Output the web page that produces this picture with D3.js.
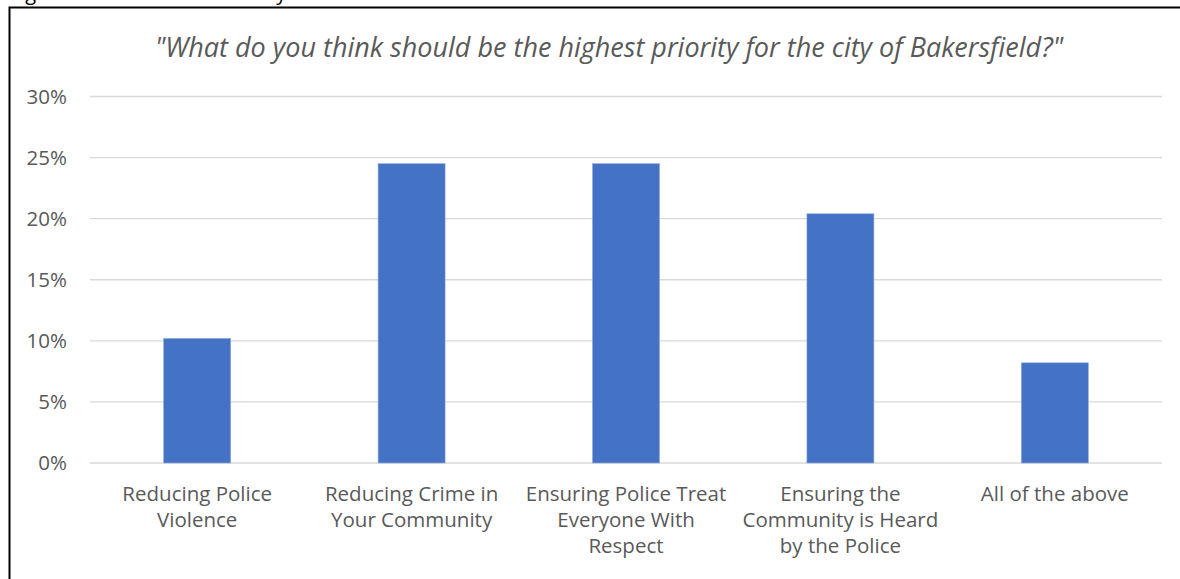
<!DOCTYPE html>
<html>
<head>
<meta charset="utf-8">
<script src="https://cdn.jsdelivr.net/npm/d3@7"></script>
<style>
  body { margin: 0; background: #fff; }
  svg { display: block; }
  .axis text { font-family: "Open Sans", sans-serif; font-size: 20.5px; fill: #595959; }
</style>
</head>
<body>
<script>
// data
var categories = [
  ["Reducing Police", "Violence"],
  ["Reducing Crime in", "Your Community"],
  ["Ensuring Police Treat", "Everyone With", "Respect"],
  ["Ensuring the", "Community is Heard", "by the Police"],
  ["All of the above"]
];
var shares = [10.2, 24.5, 24.5, 20.4, 8.2];
var yTicks = [0, 5, 10, 15, 20, 25, 30];
var chartTitle = "\"What do you think should be the highest priority for the city of Bakersfield?\"";

var w = 1180, h = 579;
var plotLeft = 90, plotRight = 1162, plotTop = 96.5, plotBottom = 463;

var svg = d3.select("body").append("svg")
  .attr("width", w)
  .attr("height", h);

// caption above the frame, mostly cut off at the top edge
svg.append("text")
  .attr("x", 10)
  .attr("y", 0)
  .attr("font-family", "Open Sans, sans-serif")
  .attr("font-size", 20)
  .attr("fill", "#000")
  .text("Figure 3: Priorities for the City");

// frame around chart
svg.append("path")
  .attr("d", `M9.5,${h + 5} V7.5 H${w + 5}`)
  .attr("fill", "none")
  .attr("stroke", "#000")
  .attr("stroke-width", 2);

var x = d3.scaleBand()
  .domain(d3.range(categories.length))
  .range([plotLeft, plotRight])
  .paddingInner(0.6875)
  .paddingOuter(0.34375);

var y = d3.scaleLinear()
  .domain([0, 30])
  .range([plotBottom, plotTop]);

// gridlines
svg.append("g")
  .selectAll("line")
  .data(yTicks)
  .enter()
  .append("line")
  .attr("x1", plotLeft)
  .attr("x2", plotRight)
  .attr("y1", d => y(d))
  .attr("y2", d => y(d))
  .attr("stroke", "#d9d9d9")
  .attr("stroke-width", 1.3);

// y axis labels
var yAxis = d3.axisLeft(y)
  .tickValues(yTicks)
  .tickFormat(d => d + "%")
  .tickSize(0)
  .tickPadding(0);

svg.append("g")
  .attr("class", "axis")
  .attr("transform", "translate(67,0)")
  .call(yAxis)
  .call(g => g.select(".domain").remove());

// bars
svg.append("g")
  .selectAll("rect")
  .data(shares)
  .enter()
  .append("rect")
  .attr("x", (d, i) => x(i))
  .attr("y", d => y(d))
  .attr("width", x.bandwidth())
  .attr("height", d => plotBottom - y(d))
  .attr("fill", "#4472c4")
  .attr("stroke", "#8faadc")
  .attr("stroke-width", 0.6);

// x axis labels (wrapped lines)
var xAxis = d3.axisBottom(x)
  .tickSize(0)
  .tickFormat("");

var xg = svg.append("g")
  .attr("class", "axis")
  .attr("transform", `translate(0,${plotBottom})`)
  .call(xAxis)
  .call(g => g.select(".domain").remove());

xg.selectAll(".tick").each(function(i) {
  var t = d3.select(this).select("text")
    .attr("y", 0)
    .attr("dy", null);
  categories[i].forEach((line, k) => {
    t.append("tspan")
      .attr("x", 0)
      .attr("y", 38 + k * 26)
      .text(line);
  });
});

// title
svg.append("text")
  .attr("x", 609)
  .attr("y", 57)
  .attr("text-anchor", "middle")
  .attr("font-family", "Open Sans, sans-serif")
  .attr("font-style", "italic")
  .attr("font-size", 27)
  .attr("fill", "#595959")
  .text(chartTitle);
</script>
</body>
</html>
